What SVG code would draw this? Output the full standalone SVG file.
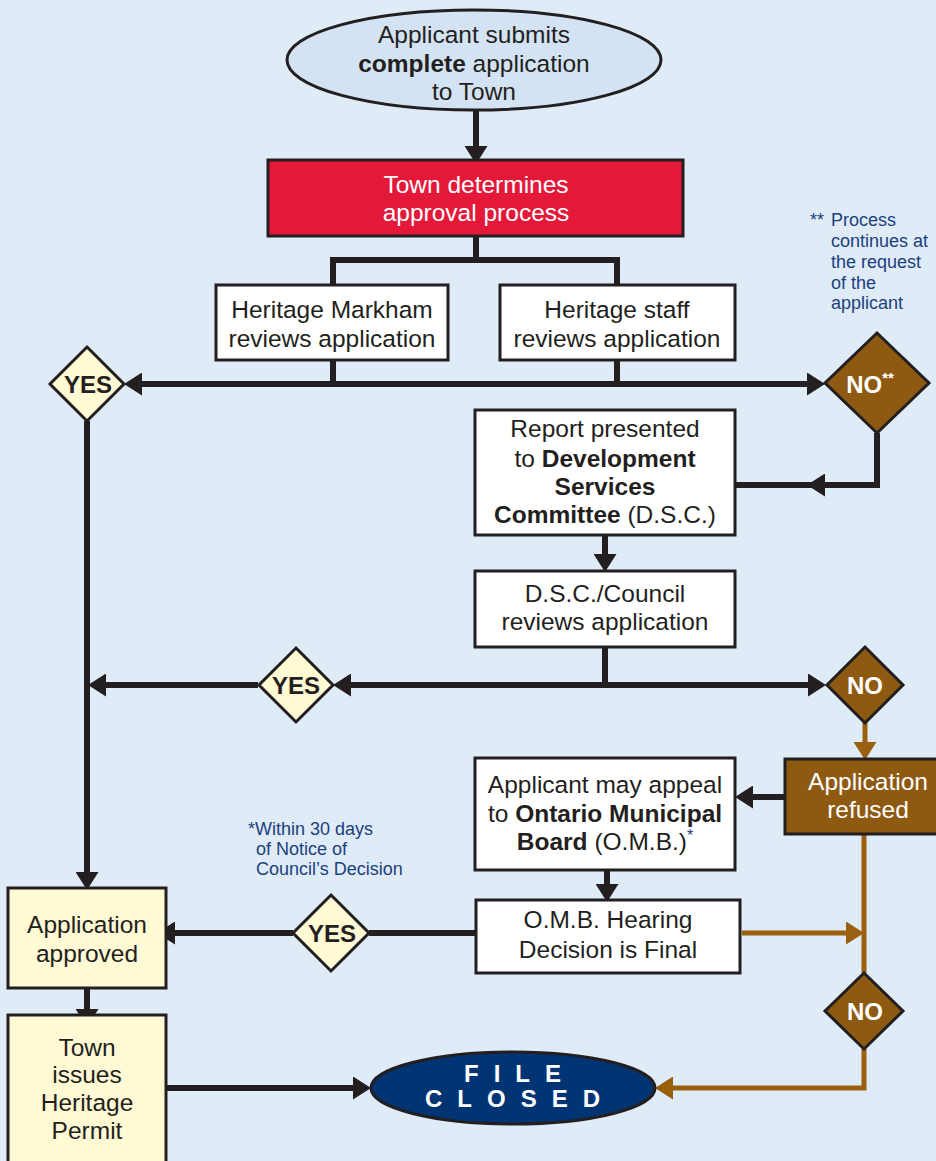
<svg xmlns="http://www.w3.org/2000/svg" width="936" height="1161" viewBox="0 0 936 1161">
<defs>
<style>
.t{font-family:"Liberation Sans",Arial,sans-serif;font-size:24.5px;fill:#231f20;text-anchor:middle}
.w{fill:#ffffff}
.b{font-weight:bold}
.note{font-family:"Liberation Sans",Arial,sans-serif;font-size:18px;fill:#1c3f7e}
.dl{font-family:"Liberation Sans",Arial,sans-serif;font-weight:bold;font-size:24px;text-anchor:middle}
.box{fill:#ffffff;stroke:#231f20;stroke-width:3}
.ybox{fill:#fff9d4;stroke:#231f20;stroke-width:3}
.ydia{fill:#fff9d4;stroke:#231f20;stroke-width:3}
.bdia{fill:#8e5a12;stroke:#231f20;stroke-width:3}
.blk{fill:none;stroke:#231f20;stroke-width:6}
.brn{fill:none;stroke:#9a600f;stroke-width:5}
</style>
<marker id="ab" markerUnits="userSpaceOnUse" markerWidth="18" markerHeight="23" viewBox="0 0 18 23" refX="12" refY="11.5" orient="auto">
<path d="M0,0 L18,11.5 L0,23 z" fill="#231f20"/>
</marker>
<marker id="ao" markerUnits="userSpaceOnUse" markerWidth="18" markerHeight="23" viewBox="0 0 18 23" refX="12" refY="11.5" orient="auto">
<path d="M0,0 L18,11.5 L0,23 z" fill="#9a600f"/>
</marker>
</defs>
<rect x="0" y="0" width="936" height="1161" fill="#dfebf7"/>

<g id="connectors">
<path class="blk" d="M476,110 V158" marker-end="url(#ab)"/>
<path class="blk" d="M476,236 V260"/>
<path class="blk" d="M333,285 V260 H617 V285"/>
<path class="blk" d="M333,360 V384"/>
<path class="blk" d="M617,360 V384"/>
<path class="blk" d="M470,384 H130" marker-end="url(#ab)"/>
<path class="blk" d="M470,384 H819" marker-end="url(#ab)"/>
<path class="blk" d="M87,421 V884" marker-end="url(#ab)"/>
<path class="blk" d="M877,433 V485 H813" marker-end="url(#ab)"/>
<path class="blk" d="M812,485 H735"/>
<path class="blk" d="M605,535 V566" marker-end="url(#ab)"/>
<path class="blk" d="M605,647 V685"/>
<path class="blk" d="M605,685 H339" marker-end="url(#ab)"/>
<path class="blk" d="M605,685 H820" marker-end="url(#ab)"/>
<path class="blk" d="M258,685 H94" marker-end="url(#ab)"/>
<path class="blk" d="M785,797 H741" marker-end="url(#ab)"/>
<path class="blk" d="M607,870 V896" marker-end="url(#ab)"/>
<path class="blk" d="M476,933 H369"/>
<path class="blk" d="M293,933 H163" marker-end="url(#ab)"/>
<path class="blk" d="M87,988 V1021" marker-end="url(#ab)"/>
<path class="blk" d="M166,1088 H365" marker-end="url(#ab)"/>
<path class="brn" d="M865,722 V754" marker-end="url(#ao)"/>
<path class="brn" d="M742,933 H858" marker-end="url(#ao)"/>
<path class="brn" d="M864,835 V973"/>
<path class="brn" d="M864,1048 V1088 H661" marker-end="url(#ao)"/>
</g>

<g id="start">
<ellipse cx="474" cy="60" rx="187" ry="50" fill="#d3e3f3" stroke="#231f20" stroke-width="3"/>
<text class="t" x="474" y="43">Applicant submits</text>
<text class="t" x="474" y="72"><tspan class="b">complete</tspan> application</text>
<text class="t" x="474" y="100">to Town</text>
</g>

<g id="determine">
<rect x="268" y="160" width="415" height="76" fill="#e4193a" stroke="#231f20" stroke-width="3"/>
<text class="t w" x="476" y="193">Town determines</text>
<text class="t w" x="476" y="221">approval process</text>
</g>

<g id="heritage-markham">
<rect class="box" x="216" y="285" width="232" height="75"/>
<text class="t" x="332" y="318">Heritage Markham</text>
<text class="t" x="332" y="347">reviews application</text>
</g>

<g id="heritage-staff">
<rect class="box" x="500" y="285" width="235" height="75"/>
<text class="t" x="617" y="318">Heritage staff</text>
<text class="t" x="617" y="347">reviews application</text>
</g>

<g id="yes1">
<polygon class="ydia" points="87,347 124,384 87,421 50,384"/>
<text class="dl" x="88" y="393" fill="#231f20">YES</text>
</g>

<g id="no1">
<polygon class="bdia" points="877,333 929,383 877,433 825,383"/>
<text class="dl" x="870" y="393" fill="#ffffff" font-size="26">NO<tspan font-size="15" dy="-10">**</tspan></text>
</g>

<g id="note-process">
<text class="note" x="810" y="226">**</text>
<text class="note" x="831" y="226">Process</text>
<text class="note" x="831" y="247">continues at</text>
<text class="note" x="831" y="268">the request</text>
<text class="note" x="831" y="289">of the</text>
<text class="note" x="831" y="309">applicant</text>
</g>

<g id="report">
<rect class="box" x="475" y="410" width="260" height="125"/>
<text class="t" x="605" y="437">Report presented</text>
<text class="t" x="605" y="467">to <tspan class="b">Development</tspan></text>
<text class="t b" x="605" y="495">Services</text>
<text class="t" x="605" y="523"><tspan class="b">Committee</tspan> (D.S.C.)</text>
</g>

<g id="dsc-review">
<rect class="box" x="475" y="571" width="260" height="76"/>
<text class="t" x="605" y="602">D.S.C./Council</text>
<text class="t" x="605" y="630">reviews application</text>
</g>

<g id="yes2">
<polygon class="ydia" points="296,648 333,685 296,722 259,685"/>
<text class="dl" x="296" y="694" fill="#231f20">YES</text>
</g>

<g id="no2">
<polygon class="bdia" points="865,647 903,685 865,723 827,685"/>
<text class="dl" x="865" y="694" fill="#ffffff" font-size="26">NO</text>
</g>

<g id="refused">
<rect x="785" y="759" width="155" height="75" fill="#8e5a12" stroke="#231f20" stroke-width="3"/>
<text class="t w" x="868" y="790">Application</text>
<text class="t w" x="868" y="818">refused</text>
</g>

<g id="appeal">
<rect class="box" x="475" y="758" width="260" height="112"/>
<text class="t" x="605" y="793">Applicant may appeal</text>
<text class="t" x="605" y="822">to <tspan class="b">Ontario Municipal</tspan></text>
<text class="t" x="605" y="850"><tspan class="b">Board</tspan> (O.M.B.)<tspan fill="#1c3f7e" font-size="16" dy="-9">*</tspan></text>
</g>

<g id="note-30days">
<text class="note" x="248" y="835">*Within 30 days</text>
<text class="note" x="256" y="855">of Notice of</text>
<text class="note" x="256" y="875">Council’s Decision</text>
</g>

<g id="omb">
<rect class="box" x="476" y="900" width="264" height="73"/>
<text class="t" x="608" y="928">O.M.B. Hearing</text>
<text class="t" x="608" y="958">Decision is Final</text>
</g>

<g id="yes3">
<polygon class="ydia" points="331,895 369,933 331,971 293,933"/>
<text class="dl" x="332" y="942" fill="#231f20">YES</text>
</g>

<g id="no3">
<polygon class="bdia" points="864,973 903,1011 864,1049 825,1011"/>
<text class="dl" x="865" y="1020" fill="#ffffff" font-size="26">NO</text>
</g>

<g id="approved">
<rect class="ybox" x="8" y="888" width="158" height="100"/>
<text class="t" x="87" y="933">Application</text>
<text class="t" x="87" y="962">approved</text>
</g>

<g id="permit">
<rect class="ybox" x="8" y="1015" width="158" height="160"/>
<text class="t" x="87" y="1056">Town</text>
<text class="t" x="87" y="1083">issues</text>
<text class="t" x="87" y="1111">Heritage</text>
<text class="t" x="87" y="1139">Permit</text>
</g>

<g id="file-closed">
<ellipse cx="513" cy="1088" rx="142" ry="36" fill="#003473" stroke="#231f20" stroke-width="3"/>
<text class="dl" x="520" y="1082" fill="#ffffff" letter-spacing="15">FILE</text>
<text class="dl" x="520" y="1107" fill="#ffffff" letter-spacing="15">CLOSED</text>
</g>
</svg>
